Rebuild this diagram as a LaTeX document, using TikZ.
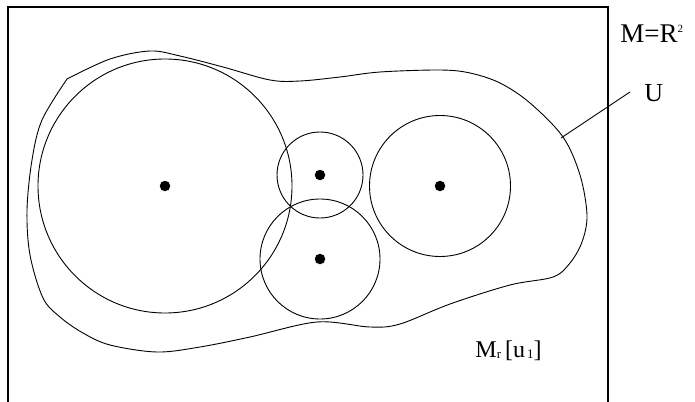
\documentclass[tikz,border=0pt]{standalone}
\usepackage{fontspec}
\setmainfont{Liberation Serif}
\begin{document}
\begin{tikzpicture}[x=1pt,y=-1pt,
  line width=0.9pt,
  disc/.style={circle,draw,inner sep=0pt,minimum size=#1},
  dotc/.style={circle,fill=black,inner sep=0pt,minimum size=10.5pt},
  lbl/.style={inner sep=0pt,anchor=base west}]
\useasboundingbox (0,0) rectangle (695,401);
% frame
\draw[line width=1.1pt] (8,405) -- (8,7) -- (608,7) -- (608,405);
% region U
\draw plot[smooth,tension=0.55] coordinates {
 (67,79) (110,59) (150,51) (180,56) (223,67) (270,80) (300,81) (340,77) (380,72) (440,70)
 (470,73) (500,83) (530,103) (563,137) (580,175) (587,215) (582,242) (570,263) (553,277)
 (510,285) (450,304) (400,324) (370,327) (317,322) (250,337) (200,347) (157,352)
 (110,345) (83,333) (60,317) (43,298) (30,255) (27,210) (32,160) (42,120) (67,79)};
% balls
\node[disc=254pt] (b1) at (165,186) {};
\node[disc=86pt] (b2) at (320,175) {};
\node[disc=120pt] (b3) at (320,259) {};
\node[disc=141pt] (b4) at (440,186) {};
\node[dotc] (d1) at (b1.center) {};
\node[dotc] (d2) at (b2.center) {};
\node[dotc] (d3) at (b3.center) {};
\node[dotc] (d4) at (b4.center) {};
% labels
\node[lbl,font=\fontsize{27}{27}\selectfont] (m) at (620,43) {M=R\raisebox{10pt}{\fontsize{11}{11}\selectfont 2}};
\node[lbl,font=\fontsize{26}{26}\selectfont] (u) at (644,102) {U};
\coordinate (ua) at (561,138);
\coordinate (ub) at (630,92);
\draw (ua) -- (ub);
\node[lbl,font=\fontsize{24}{24}\selectfont] (mr) at (475,357)
 {M\raisebox{-1pt}{\fontsize{13}{13}\selectfont r}\hspace{4pt}[u\hspace{2pt}\raisebox{-1pt}{\fontsize{13}{13}\selectfont 1}]};
\end{tikzpicture}
\end{document}
